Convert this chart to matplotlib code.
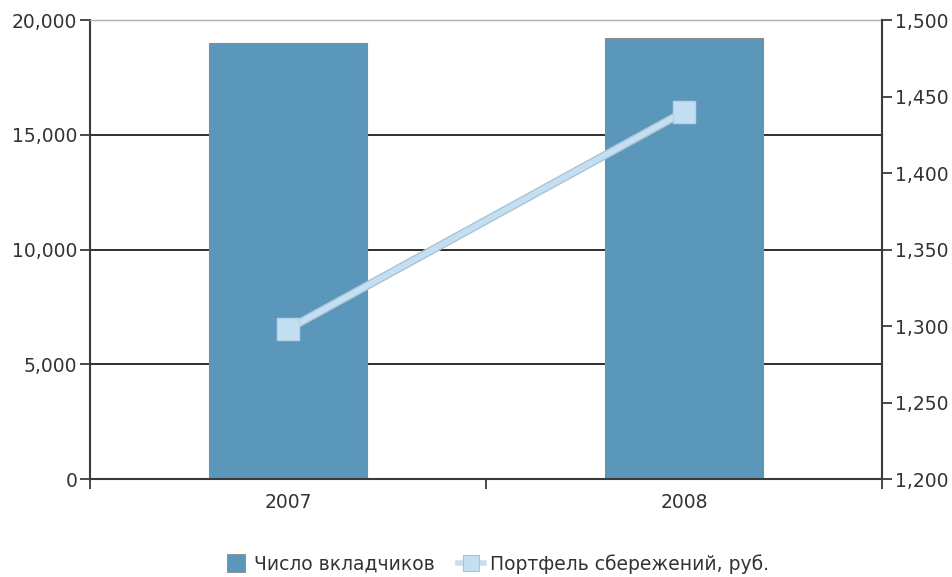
import matplotlib.pyplot as plt
from matplotlib.lines import Line2D
from matplotlib.ticker import FuncFormatter

# Data
years = ["2007", "2008"]
depositors = [19000, 19200]
savings = [1298, 1440]
bar_label = "Число вкладчиков"
line_label = "Портфель\u00a0сбережений, руб."

bar_color = "#5b97ba"
line_color = "#c4dff1"
axis_color = "#3a3a3a"
text_color = "#333333"
fs = 13.5

plt.rcParams['font.family'] = ['DejaVu Sans']

fig = plt.figure(figsize=(9.53, 5.77), dpi=100)
ax = fig.add_axes([0.0944, 0.1698, 0.8311, 0.7955])
ax2 = ax.twinx()

x = list(range(len(years)))
ax.bar(x, depositors, width=0.4, color=bar_color, edgecolor="#8a8a8a",
       linewidth=0.8, zorder=2)
ax.set_xlim(-0.5, len(years) - 0.5)
ax.set_ylim(0, 20000)
ax.set_yticks([0, 5000, 10000, 15000, 20000])
ax.yaxis.set_major_formatter(FuncFormatter(lambda v, p: f"{int(v):,}"))
ax.grid(axis="y", color="#1e1e1e", linewidth=1.3, zorder=1)
ax.set_axisbelow(True)

ax.set_xticks(x)
ax.set_xticklabels(years)
ax.tick_params(axis="x", length=0, pad=10)
# category boundary ticks
ax.set_xticks([-0.5, 0.5, 1.5], minor=True)
ax.tick_params(axis="x", which="minor", length=7, width=1.3, color=axis_color,
               direction="out")
ax.tick_params(axis="y", length=7, width=1.3, color=axis_color, direction="out",
               labelsize=fs, labelcolor=text_color, pad=2)
ax.tick_params(axis="x", labelsize=fs, labelcolor=text_color)

for side in ["left", "bottom"]:
    ax.spines[side].set_color(axis_color)
    ax.spines[side].set_linewidth(1.5)
ax.spines["top"].set_color("#b0b0b0")
ax.spines["top"].set_linewidth(1.0)
ax.spines["right"].set_visible(False)

ax2.plot(x, savings, color="#a9c4d6", linewidth=6, solid_capstyle="butt", zorder=3)
ax2.plot(x, savings, color=line_color, linewidth=4, marker="s", markersize=16,
         markerfacecolor=line_color, markeredgecolor="#b5d3e8",
         markeredgewidth=1, zorder=4)
ax2.set_ylim(1200, 1500)
ax2.set_yticks([1200, 1250, 1300, 1350, 1400, 1450, 1500])
ax2.yaxis.set_major_formatter(FuncFormatter(lambda v, p: f"{int(v):,}"))
ax2.tick_params(axis="y", length=7, width=1.3, color=axis_color, direction="out",
                labelsize=fs, labelcolor=text_color, pad=2)
for side in ["left", "top", "bottom"]:
    ax2.spines[side].set_visible(False)
ax2.spines["right"].set_color(axis_color)
ax2.spines["right"].set_linewidth(1.5)

# legend keys
bar_key = Line2D([], [], linestyle="none", marker="s", markersize=13,
                 markerfacecolor=bar_color, markeredgecolor="#8a8a8a",
                 markeredgewidth=0.6)
line_key = Line2D([], [], color=line_color, linewidth=4, marker="s",
                  markersize=12, markerfacecolor=line_color,
                  markeredgecolor="#a9c4d6", markeredgewidth=0.8)
fig.legend([bar_key, line_key], [bar_label, line_label], loc="center",
           bbox_to_anchor=(0.52, 0.023), ncol=2, frameon=False, fontsize=fs,
           handlelength=1.4, columnspacing=1.2, handletextpad=0.3,
           labelcolor=text_color)

fig.savefig("out.png", dpi=100, facecolor="white")
